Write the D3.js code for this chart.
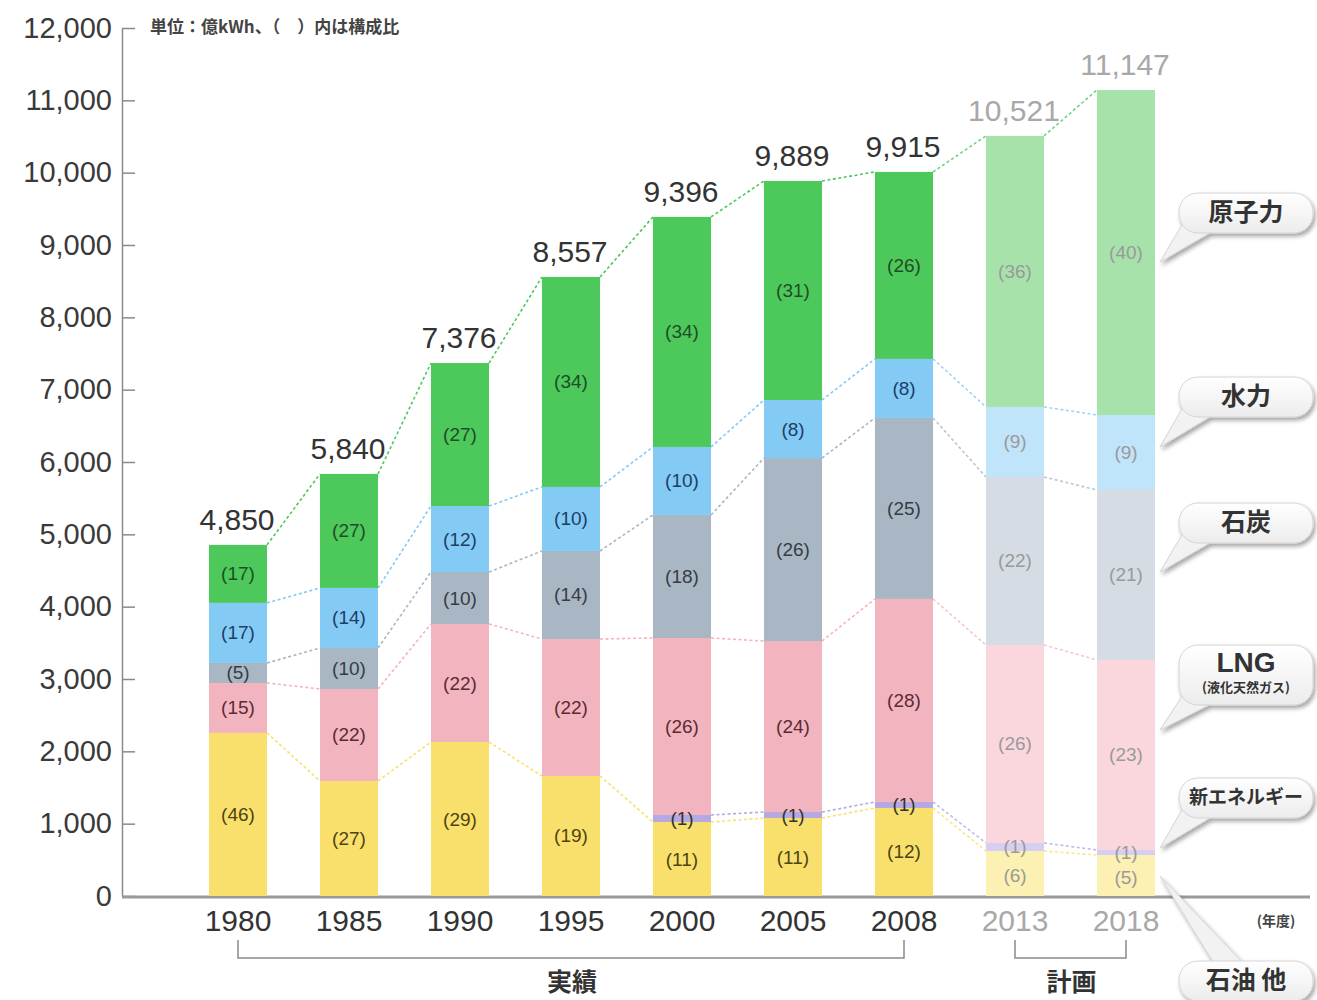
<!DOCTYPE html>
<html>
<head>
<meta charset="utf-8">
<script src="https://cdn.jsdelivr.net/npm/d3@7"></script>
<style>
  body { margin: 0; background: #fff; }
  #js_chart text { font-family: "Liberation Sans", Arial, "Noto Sans CJK JP", sans-serif; }
  #js_chart .jp { font-family: "Noto Sans CJK JP", "Liberation Sans", sans-serif; }
</style>
</head>
<body>
<div id="js_chart"></div>
<script>
// ******************************************************
// Data (億kWh)
// ******************************************************
const years   = ["1980", "1985", "1990", "1995", "2000", "2005", "2008", "2013", "2018"];
const planned = [false, false, false, false, false, false, false, true, true];
const totals  = [4850, 5840, 7376, 8557, 9396, 9889, 9915, 10521, 11147];

// stacked from bottom to top
const oil       = [2254, 1590, 2129, 1659, 1023, 1078, 1217,  622,  567];
const newEnergy = [   0,    0,    0,    0,   97,   83,   83,  111,   69];
const lng       = [ 691, 1272, 1631, 1894, 2447, 2364, 2807, 2737, 2627];
const coal      = [ 277,  567,  719, 1217, 1701, 2530, 2502, 2323, 2350];
const hydro     = [ 830,  830,  912,  885,  940,  802,  816,  968, 1037];
const nuclear   = [ 802, 1576, 1977, 2903, 3180, 3028, 2585, 3747, 4493];

// composition ratio labels (%)
const oilPct       = ["46", "27", "29", "19", "11", "11", "12", "6", "5"];
const newEnergyPct = [null, null, null, null, "1", "1", "1", "1", "1"];
const lngPct       = ["15", "22", "22", "22", "26", "24", "28", "26", "23"];
const coalPct      = ["5", "10", "10", "14", "18", "26", "25", "22", "21"];
const hydroPct     = ["17", "14", "12", "10", "10", "8", "8", "9", "9"];
const nuclearPct   = ["17", "27", "27", "34", "34", "31", "26", "36", "40"];

const yTicks = [0, 1000, 2000, 3000, 4000, 5000, 6000, 7000, 8000, 9000, 10000, 11000, 12000];

const seriesKeys = ["oil", "newEnergy", "lng", "coal", "hydro", "nuclear"];
const pctLabels = {oil: oilPct, newEnergy: newEnergyPct, lng: lngPct, coal: coalPct, hydro: hydroPct, nuclear: nuclearPct};

// ******************************************************
// Styles
// ******************************************************
const colors = {
    oil:       "#f9e06c",
    newEnergy: "#b4a9e2",
    lng:       "#f2b5bf",
    coal:      "#a9b7c4",
    hydro:     "#83cbf5",
    nuclear:   "#4dc85b"
};
const colorsPlan = {
    oil:       "#fcf0b3",
    newEnergy: "#d6cff2",
    lng:       "#f9d7dd",
    coal:      "#d5dce4",
    hydro:     "#c0e4f9",
    nuclear:   "#a7e2ab"
};
const labelColors = {
    oil:       "#4d4412",
    newEnergy: "#333333",
    lng:       "#5b2b33",
    coal:      "#363c45",
    hydro:     "#1d3d66",
    nuclear:   "#1f4d25"
};

createPlot();

function createPlot() {

    let width = 1317, height = 1000;

    let rows = years.map(function (yr, i) {
        return {year: yr, oil: oil[i], newEnergy: newEnergy[i], lng: lng[i],
                coal: coal[i], hydro: hydro[i], nuclear: nuclear[i]};
    });
    let stacked = d3.stack().keys(seriesKeys)(rows);

    let x = d3.scaleBand()
        .domain(years)
        .range([182.5, 1181.5])
        .paddingInner(0.477)
        .paddingOuter(0.2385);
    let bw = x.bandwidth();

    let y = d3.scaleLinear()
        .domain([0, 12000])
        .range([896, 28]);

    let svg = d3.select("#js_chart")
        .append("svg")
        .attr("width", width)
        .attr("height", height);

    let defs = svg.append("defs");
    let f = defs.append("filter").attr("id", "shadow")
        .attr("x", "-20%").attr("y", "-30%").attr("width", "150%").attr("height", "180%");
    f.append("feDropShadow").attr("dx", 2).attr("dy", 3).attr("stdDeviation", 2.2)
        .attr("flood-color", "#000").attr("flood-opacity", 0.35);
    let grad = defs.append("linearGradient").attr("id", "pillGrad")
        .attr("x1", 0).attr("y1", 0).attr("x2", 0).attr("y2", 1);
    grad.append("stop").attr("offset", "0%").attr("stop-color", "#ffffff");
    grad.append("stop").attr("offset", "100%").attr("stop-color", "#ececec");

    // ******************************************************
    // Axes
    // ******************************************************
    let yAxis = svg.append("g")
        .attr("transform", "translate(122,0)")
        .call(d3.axisLeft(y).tickValues(yTicks).tickFormat(d3.format(","))
            .tickSizeInner(-13).tickSizeOuter(0).tickPadding(10));
    yAxis.select(".domain").attr("stroke", "#8a8a8a").attr("stroke-width", 1.5);
    yAxis.selectAll(".tick line").attr("stroke", "#8a8a8a").attr("stroke-width", 1.5);
    yAxis.selectAll(".tick text")
        .attr("font-size", 29).attr("fill", "#3a3a3a");

    svg.append("line")
        .attr("x1", 122).attr("x2", 1310)
        .attr("y1", y(0) + 1).attr("y2", y(0) + 1)
        .attr("stroke", "#9a9a9a").attr("stroke-width", 3);

    let xAxis = svg.append("g")
        .attr("transform", "translate(0," + y(0) + ")")
        .call(d3.axisBottom(x).tickSize(0).tickPadding(14));
    xAxis.select(".domain").remove();
    xAxis.selectAll(".tick text")
        .attr("font-size", 30)
        .attr("fill", function (d, i) { return planned[i] ? "#a8a8a8" : "#333"; });

    svg.append("text")
        .attr("class", "jp")
        .attr("x", 150).attr("y", 28)
        .attr("dominant-baseline", "middle")
        .attr("font-size", 17).attr("font-weight", "bold").attr("fill", "#444")
        .text("単位：億kWh、（　）内は構成比");

    svg.append("text")
        .attr("class", "jp")
        .attr("x", 1276).attr("y", 922)
        .attr("text-anchor", "middle").attr("dominant-baseline", "middle")
        .attr("font-size", 14).attr("font-weight", "bold").attr("fill", "#444")
        .text("(年度)");

    // brackets
    function bracket(a, b, label) {
        let xa = x(a) + bw / 2, xb = x(b) + bw / 2;
        svg.append("path")
            .attr("d", "M" + xa + ",940V958H" + xb + "V940")
            .attr("fill", "none").attr("stroke", "#8a8a8a").attr("stroke-width", 1.5);
        svg.append("text")
            .attr("class", "jp")
            .attr("x", (xa + xb) / 2 + 1).attr("y", 984)
            .attr("text-anchor", "middle").attr("dominant-baseline", "middle")
            .attr("font-size", 25).attr("font-weight", "bold").attr("fill", "#333")
            .text(label);
    }
    bracket("1980", "2008", "実績");
    bracket("2013", "2018", "計画");

    // ******************************************************
    // Connecting dotted lines
    // ******************************************************
    let gLines = svg.append("g");
    stacked.forEach(function (layer) {
        let key = layer.key;
        for (let i = 0; i < years.length - 1; i++) {
            let a = layer[i], b = layer[i + 1];
            if (a[1] - a[0] <= 0 || b[1] - b[0] <= 0) continue;
            gLines.append("line")
                .attr("x1", x(years[i]) + bw).attr("y1", y(a[1]))
                .attr("x2", x(years[i + 1])).attr("y2", y(b[1]))
                .attr("stroke", planned[i + 1] ? d3.interpolateRgb(colors[key], "#fff")(0.2) : colors[key])
                .attr("stroke-width", 1.6)
                .attr("stroke-dasharray", "3,2.5");
        }
    });

    // ******************************************************
    // Bars
    // ******************************************************
    let gBars = svg.append("g");
    stacked.forEach(function (layer) {
        let key = layer.key;
        gBars.append("g")
            .selectAll("rect")
            .data(layer)
            .enter().append("rect")
                .attr("x", function (d) { return x(d.data.year); })
                .attr("y", function (d) { return y(d[1]); })
                .attr("width", bw)
                .attr("height", function (d) { return y(d[0]) - y(d[1]); })
                .attr("fill", function (d, i) { return planned[i] ? colorsPlan[key] : colors[key]; });
    });

    // segment labels
    let gLab = svg.append("g");
    stacked.forEach(function (layer) {
        let key = layer.key;
        layer.forEach(function (d, i) {
            let t = pctLabels[key][i];
            if (t == null) return;
            let cy = (y(d[0]) + y(d[1])) / 2;
            if (key === "oil" && planned[i]) cy += 2;
            gLab.append("text")
                .attr("x", x(d.data.year) + bw / 2)
                .attr("y", cy)
                .attr("text-anchor", "middle").attr("dominant-baseline", "central")
                .attr("font-size", 19)
                .attr("fill", planned[i] ? "#9a9a9a" : labelColors[key])
                .text("(" + t + ")");
        });
    });

    // totals
    let top = stacked[stacked.length - 1];
    svg.append("g")
        .selectAll("text")
        .data(totals)
        .enter().append("text")
            .attr("x", function (d, i) { return x(years[i]) + bw / 2 - 1; })
            .attr("y", function (d, i) { return y(top[i][1]) - 15; })
            .attr("text-anchor", "middle")
            .attr("font-size", 30)
            .attr("fill", function (d, i) { return planned[i] ? "#a8a8a8" : "#333"; })
            .text(function (d) { return d3.format(",")(d); });

    // ******************************************************
    // Callouts
    // ******************************************************
    function callout(label, sub, topY, h, tipY, up) {
        let left = 1179, right = 1313, tipX = 1160;
        let g = svg.append("g").attr("filter", "url(#shadow)");
        let tail;
        if (up) {
            tail = [[left + 36, topY + 4], [left + 66, topY + 4], [tipX, tipY]];
        } else {
            tail = [[left + 4, topY + h - 10], [left + 36, topY + h - 3], [tipX, tipY]];
        }
        g.append("polygon")
            .attr("points", tail.map(function (p) { return p.join(","); }).join(" "))
            .attr("fill", "#f2f2f2").attr("stroke", "#d4d4d4").attr("stroke-width", 1);
        g.append("rect")
            .attr("x", left).attr("y", topY)
            .attr("width", right - left).attr("height", h)
            .attr("rx", 19).attr("ry", 19)
            .attr("fill", "url(#pillGrad)").attr("stroke", "#d4d4d4").attr("stroke-width", 1);
        let cx = (left + right) / 2;
        if (sub) {
            svg.append("text")
                .attr("x", cx).attr("y", topY + 20)
                .attr("text-anchor", "middle").attr("dominant-baseline", "middle")
                .attr("font-size", 28).attr("font-weight", "bold").attr("fill", "#333")
                .text(label);
            svg.append("text")
                .attr("class", "jp")
                .attr("x", cx).attr("y", topY + 43)
                .attr("text-anchor", "middle").attr("dominant-baseline", "middle")
                .attr("font-size", 13).attr("font-weight", "bold").attr("fill", "#333")
                .text(sub);
        } else {
            svg.append("text")
                .attr("class", "jp")
                .attr("x", cx).attr("y", topY + h / 2 + 1)
                .attr("text-anchor", "middle").attr("dominant-baseline", "middle")
                .attr("font-size", label.length > 4 ? 19 : 25).attr("font-weight", "bold").attr("fill", "#333")
                .text(label);
        }
    }
    callout("原子力", null, 193, 40, 262, false);
    callout("水力", null, 377, 40, 447, false);
    callout("石炭", null, 503, 40, 572, false);
    callout("LNG", "(液化天然ガス)", 645, 60, 730, false);
    callout("新エネルギー", null, 778, 40, 848, false);
    callout("石油 他", null, 961, 40, 876, true);
}
</script>
</body>
</html>
